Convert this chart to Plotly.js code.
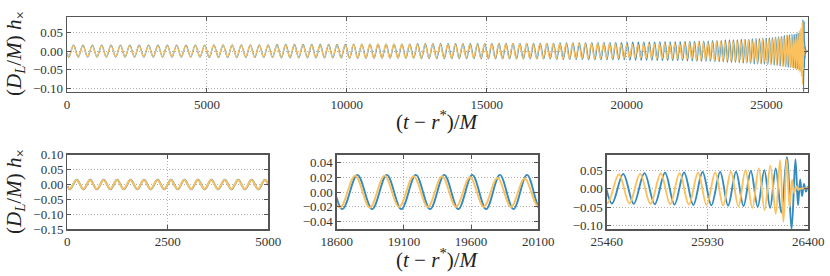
<!DOCTYPE html>
<html><head><meta charset="utf-8">
<script src="https://cdn.plot.ly/plotly-3.0.1.min.js"></script>
<style>html,body{margin:0;padding:0;background:#fff}#chart{width:830px;height:276px}</style>
</head><body><div id="chart"></div>
<script>
// h_x waveform extrema [t, h] (two waveforms)
const blueWave = [[0,-0.005],[66,-0.016],[234,0.016],[402,-0.016],[569,0.016],[736,-0.016],[904,0.016],[1072,-0.016],[1239,0.016],[1406,-0.016],[1574,0.016],[1742,-0.016],[1909,0.016],[2076,-0.016],[2244,0.016],[2412,-0.016],[2579,0.016],[2746,-0.016],[2914,0.016],[3082,-0.016],[3249,0.016],[3416,-0.016],[3583,0.016],[3750,-0.016],[3917,0.016],[4084,-0.016],[4251,0.016],[4418,-0.016],[4585,0.016],[4752,-0.016],[4918,0.016],[5084,-0.017],
[5249,0.017],[5414,-0.017],[5578,0.017],[5741,-0.017],[5904,0.017],[6066,-0.017],[6229,0.017],[6390,-0.017],[6551,0.017],[6711,-0.017],[6871,0.017],[7030,-0.017],[7188,0.017],[7346,-0.017],
[7504,0.018],[7660,-0.018],[7817,0.018],[7972,-0.018],[8128,0.018],[8282,-0.018],[8437,0.018],[8590,-0.018],[8744,0.018],[8896,-0.018],[9048,0.018],[9199,-0.018],[9350,0.018],[9500,-0.018],[9650,0.018],[9799,-0.018],[9948,0.018],
[10096,-0.019],[10244,0.019],[10390,-0.019],[10537,0.019],[10682,-0.019],[10828,0.019],[10972,-0.019],[11117,0.019],[11260,-0.019],[11404,0.019],[11546,-0.019],[11688,0.019],[11829,-0.019],[11970,0.019],[12110,-0.019],[12250,0.019],[12389,-0.019],
[12528,0.020],[12666,-0.020],[12804,0.020],[12940,-0.020],[13077,0.020],[13212,-0.020],[13348,0.020],[13482,-0.020],[13617,0.020],[13750,-0.020],[13884,0.020],[14016,-0.020],[14149,0.020],[14280,-0.020],[14411,0.020],[14541,-0.020],[14671,0.020],[14800,-0.020],[14929,0.020],
[15056,-0.021],[15184,0.021],[15311,-0.021],[15438,0.021],[15564,-0.021],[15689,0.021],[15814,-0.021],[15938,0.021],[16062,-0.021],[16185,0.021],[16308,-0.021],[16430,0.021],[16551,-0.021],[16672,0.021],[16792,-0.021],[16912,0.021],[17031,-0.021],[17150,0.021],[17268,-0.021],[17386,0.021],
[17502,-0.022],[17619,0.022],[17734,-0.022],[17850,0.022],[17965,-0.022],[18080,0.022],[18193,-0.022],[18306,0.022],[18418,-0.022],[18531,0.022],[18642,-0.023],
[18754,0.023],[18864,-0.023],[18973,0.023],[19081,-0.023],[19189,0.023],[19295,-0.023],[19401,0.023],[19505,-0.023],[19609,0.023],[19712,-0.023],[19814,0.023],[19915,-0.023],[20016,0.023],[20117,-0.024],
[20218,0.024],[20318,-0.024],[20417,0.024],[20516,-0.024],[20614,0.024],[20710,-0.024],[20807,0.024],[20902,-0.024],[20998,0.024],
[21092,-0.025],[21186,0.025],[21279,-0.025],[21372,0.025],[21463,-0.025],[21554,0.025],[21644,-0.025],[21734,0.025],[21822,-0.025],[21911,0.025],[21998,-0.025],
[22085,0.026],[22171,-0.026],[22257,0.026],[22341,-0.026],[22425,0.026],[22508,-0.027],[22591,0.027],[22672,-0.027],[22754,0.027],[22834,-0.027],[22914,0.027],[22993,-0.027],
[23072,0.028],[23150,-0.028],[23227,0.028],[23303,-0.028],[23379,0.028],[23454,-0.028],[23528,0.030],[23601,-0.030],[23674,0.030],[23746,-0.030],[23818,0.030],[23888,-0.030],[23959,0.030],[24028,-0.031],
[24097,0.032],[24164,-0.032],[24232,0.032],[24298,-0.032],[24365,0.032],[24430,-0.033],[24494,0.033],[24558,-0.034],[24621,0.034],[24684,-0.034],[24746,0.034],[24806,-0.034],[24867,0.035],[24926,-0.035],[24986,0.035],
[25044,-0.036],[25102,0.036],[25158,-0.036],[25215,0.037],[25270,-0.037],[25325,0.038],[25378,-0.038],[25432,0.039],[25484,-0.040],
[25537,0.040],[25586,-0.041],[25636,0.042],[25684,-0.042],[25732,0.043],[25776,-0.043],[25821,0.044],[25864,-0.044],[25907,0.045],[25948,-0.045],[25989,0.045],[26026,-0.046],[26063,0.046],[26098,-0.047],[26132,0.048],[26164,-0.049],[26195,0.050],[26222,-0.052],[26248,0.055],[26274,-0.065],[26300,0.085],[26322,-0.110],[26340,0.080],[26352,-0.045],[26362,0.025],[26371,-0.020],[26380,0.013],[26389,-0.008],[26398,0.005],[26407,-0.003],[26418,0],[26480,0]];

const orangeWave = [[0,-0.006],[62,-0.015],[230,0.015],[398,-0.015],[565,0.015],[732,-0.015],[900,0.015],[1068,-0.015],[1235,0.015],[1402,-0.015],[1570,0.015],[1738,-0.015],[1905,0.015],[2072,-0.015],[2240,0.015],[2408,-0.015],[2575,0.015],[2742,-0.015],[2910,0.015],[3078,-0.015],[3245,0.015],[3412,-0.015],[3579,0.015],[3746,-0.015],[3913,0.015],[4080,-0.015],[4247,0.015],[4414,-0.015],[4581,0.015],[4748,-0.015],[4914,0.015],[5079,-0.016],
[5244,0.016],[5409,-0.016],[5573,0.016],[5736,-0.016],[5899,0.016],[6061,-0.016],[6223,0.016],[6384,-0.016],[6545,0.016],[6705,-0.016],[6865,0.016],[7024,-0.016],[7182,0.016],[7339,-0.016],
[7497,0.017],[7653,-0.017],[7810,0.017],[7965,-0.017],[8121,0.017],[8275,-0.017],[8430,0.017],[8582,-0.017],[8736,0.017],[8888,-0.017],[9040,0.017],[9191,-0.017],[9342,0.017],[9492,-0.017],[9641,0.017],[9790,-0.017],[9939,0.017],
[10087,-0.019],[10235,0.019],[10381,-0.019],[10528,0.019],[10673,-0.019],[10818,0.019],[10962,-0.019],[11107,0.019],[11250,-0.019],[11394,0.019],[11536,-0.019],[11678,0.019],[11819,-0.019],[11959,0.019],[12099,-0.019],[12239,0.019],[12378,-0.019],
[12517,0.019],[12655,-0.019],[12793,0.019],[12929,-0.019],[13066,0.019],[13200,-0.019],[13336,0.019],[13470,-0.019],[13605,0.019],[13738,-0.019],[13872,0.019],[14004,-0.019],[14137,0.019],[14267,-0.019],[14398,0.019],[14528,-0.019],[14658,0.019],[14787,-0.019],[14916,0.019],
[15043,-0.020],[15171,0.020],[15298,-0.020],[15424,0.020],[15550,-0.020],[15675,0.020],[15800,-0.020],[15924,0.020],[16048,-0.020],[16171,0.020],[16294,-0.020],[16416,0.020],[16536,-0.020],[16657,0.020],[16777,-0.020],[16897,0.020],[17016,-0.020],[17135,0.020],[17253,-0.020],[17371,0.020],
[17487,-0.021],[17604,0.021],[17718,-0.021],[17834,0.021],[17949,-0.021],[18064,0.021],[18177,-0.021],[18290,0.021],[18401,-0.021],[18514,0.021],[18625,-0.021],
[18737,0.022],[18847,-0.021],[18956,0.022],[19064,-0.020],[19172,0.021],[19278,-0.020],[19384,0.021],[19488,-0.020],[19592,0.020],[19694,-0.020],[19796,0.019],[19897,-0.020],[19998,0.018],[20099,-0.019],
[20200,0.019],[20300,-0.019],[20399,0.019],[20498,-0.019],[20596,0.020],[20692,-0.020],[20789,0.020],[20884,-0.020],[20980,0.020],
[21074,-0.021],[21168,0.021],[21261,-0.021],[21354,0.021],[21445,-0.021],[21536,0.021],[21626,-0.021],[21716,0.021],[21804,-0.021],[21893,0.021],[21980,-0.022],
[22066,0.023],[22152,-0.023],[22238,0.023],[22322,-0.023],[22406,0.023],[22489,-0.024],[22572,0.024],[22653,-0.024],[22735,0.024],[22815,-0.025],[22895,0.025],[22974,-0.025],
[23053,0.025],[23131,-0.025],[23208,0.026],[23284,-0.026],[23360,0.026],[23435,-0.026],[23509,0.027],[23582,-0.027],[23655,0.027],[23727,-0.027],[23799,0.028],[23869,-0.028],[23940,0.028],[24008,-0.029],
[24077,0.029],[24144,-0.029],[24212,0.030],[24278,-0.030],[24345,0.030],[24410,-0.031],[24474,0.031],[24538,-0.031],[24601,0.032],[24664,-0.032],[24726,0.032],[24786,-0.032],[24847,0.033],[24906,-0.033],[24966,0.033],
[25024,-0.034],[25082,0.034],[25138,-0.035],[25195,0.035],[25250,-0.036],[25305,0.036],[25358,-0.037],[25412,0.037],[25464,-0.039],
[25517,0.039],[25566,-0.040],[25616,0.040],[25664,-0.041],[25712,0.041],[25756,-0.042],[25800,0.042],[25843,-0.043],[25886,0.043],[25926,-0.044],[25966,0.044],[26003,-0.045],[26039,0.046],[26074,-0.048],[26107,0.050],[26139,-0.052],[26169,0.055],[26196,-0.058],[26223,0.062],[26248,-0.068],[26268,0.077],[26284,-0.090],[26299,0.079],[26313,-0.050],[26324,0.024],[26334,-0.012],[26344,0.006],[26353,-0.003],[26362,0],[26480,0]];

// axis ranges and ticks
const topXRange = [0, 26480];
const topXTicks = [0, 5000, 10000, 15000, 20000, 25000];
const topXLabels = ['0', '5000', '10000', '15000', '20000', '25000'];
const topYRange = [-0.11, 0.092];
const topYTicks = [-0.10, -0.05, 0, 0.05];
const topYLabels = ['\u22120.10', '\u22120.05', '0.00', '0.05'];

const leftXRange = [0, 5000];
const leftXTicks = [0, 2500, 5000];
const leftXLabels = ['0', '2500', '5000'];
const leftYRange = [-0.15, 0.10];
const leftYTicks = [-0.15, -0.10, -0.05, 0, 0.05, 0.10];
const leftYLabels = ['\u22120.15', '\u22120.10', '\u22120.05', '0.00', '0.05', '0.10'];

const midXRange = [18600, 20100];
const midXTicks = [18600, 19100, 19600, 20100];
const midXLabels = ['18600', '19100', '19600', '20100'];
const midYRange = [-0.05, 0.05];
const midYTicks = [-0.04, -0.02, 0, 0.02, 0.04];
const midYLabels = ['\u22120.04', '\u22120.02', '0.00', '0.02', '0.04'];

const rightXRange = [25460, 26400];
const rightXTicks = [25460, 25930, 26400];
const rightXLabels = ['25460', '25930', '26400'];
const rightYRange = [-0.11, 0.092];
const rightYTicks = [-0.10, -0.05, 0, 0.05];
const rightYLabels = ['\u22120.10', '\u22120.05', '0.00', '0.05'];

const BLUE = '#348ABD', ORANGE = '#FBC15E';
const W = 830, H = 276;
const FONT = 'Liberation Serif, DejaVu Serif, serif';

function axis(domain, range, vals, text, anchor) {
  return {
    domain: domain, range: range, tickvals: vals, ticktext: text, anchor: anchor,
    showgrid: true, gridcolor: '#b0b0b0', griddash: '1px,2px', gridwidth: 1,
    zeroline: false, showline: true, linecolor: '#555', linewidth: 1.3, mirror: 'ticks',
    ticks: 'inside', ticklen: 4, tickwidth: 1, tickcolor: '#555', automargin: false,
    tickfont: {family: FONT, size: 13, color: '#333'}, fixedrange: true
  };
}
const px = v => v / W, py = v => 1 - v / H;

const panels = [
  {xa: 'x', ya: 'y', lw: 1.3},
  {xa: 'x2', ya: 'y2', lw: 1.9},
  {xa: 'x3', ya: 'y3', lw: 1.9},
  {xa: 'x4', ya: 'y4', lw: 1.9}
];
const traces = [];
panels.forEach(p => {
  [[blueWave, BLUE], [orangeWave, ORANGE]].forEach(([w, c]) => {
    traces.push({
      type: 'scatter', mode: 'lines', xaxis: p.xa, yaxis: p.ya,
      x: w.map(d => d[0]), y: w.map(d => d[1]),
      line: {color: c, width: p.lw, shape: 'spline', smoothing: 1, simplify: false},
      hoverinfo: 'skip'
    });
  });
});

const topY = [py(92), py(17)], botY = [py(229.3), py(154.7)];
const yTitle = '(<i>D</i><sub><i>L</i></sub>/<i>M</i>) <i>h</i><sub>×</sub>';
const xTitle = '(<i>t</i> − <i>r</i><sup>*</sup>)/<i>M</i>';
const layout = {
  width: W, height: H, margin: {l: 0, r: 0, t: 0, b: 0},
  paper_bgcolor: '#fff', plot_bgcolor: '#fff', showlegend: false, hovermode: false,
  xaxis: axis([px(67), px(808)], topXRange, topXTicks, topXLabels, 'y'),
  yaxis: axis(topY, topYRange, topYTicks, topYLabels, 'x'),
  xaxis2: axis([px(67.3), px(268.3)], leftXRange, leftXTicks, leftXLabels, 'y2'),
  yaxis2: axis(botY, leftYRange, leftYTicks, leftYLabels, 'x2'),
  xaxis3: axis([px(336.7), px(538.3)], midXRange, midXTicks, midXLabels, 'y3'),
  yaxis3: axis(botY, midYRange, midYTicks, midYLabels, 'x3'),
  xaxis4: axis([px(606.7), px(808.3)], rightXRange, rightXTicks, rightXLabels, 'y4'),
  yaxis4: axis(botY, rightYRange, rightYTicks, rightYLabels, 'x4'),
  annotations: [
    {text: yTitle, xref: 'paper', yref: 'paper', x: px(15), y: py(54), textangle: -90, showarrow: false, xanchor: 'center', yanchor: 'middle', font: {family: FONT, size: 21, color: '#222'}},
    {text: yTitle, xref: 'paper', yref: 'paper', x: px(15), y: py(192), textangle: -90, showarrow: false, xanchor: 'center', yanchor: 'middle', font: {family: FONT, size: 21, color: '#222'}},
    {text: xTitle, xref: 'paper', yref: 'paper', x: px(437.5), y: py(121), showarrow: false, xanchor: 'center', yanchor: 'middle', font: {family: FONT, size: 21, color: '#222'}},
    {text: xTitle, xref: 'paper', yref: 'paper', x: px(437.5), y: py(258), showarrow: false, xanchor: 'center', yanchor: 'middle', font: {family: FONT, size: 21, color: '#222'}}
  ]
};
Plotly.newPlot('chart', traces, layout, {staticPlot: true, displayModeBar: false});
</script></body></html>
